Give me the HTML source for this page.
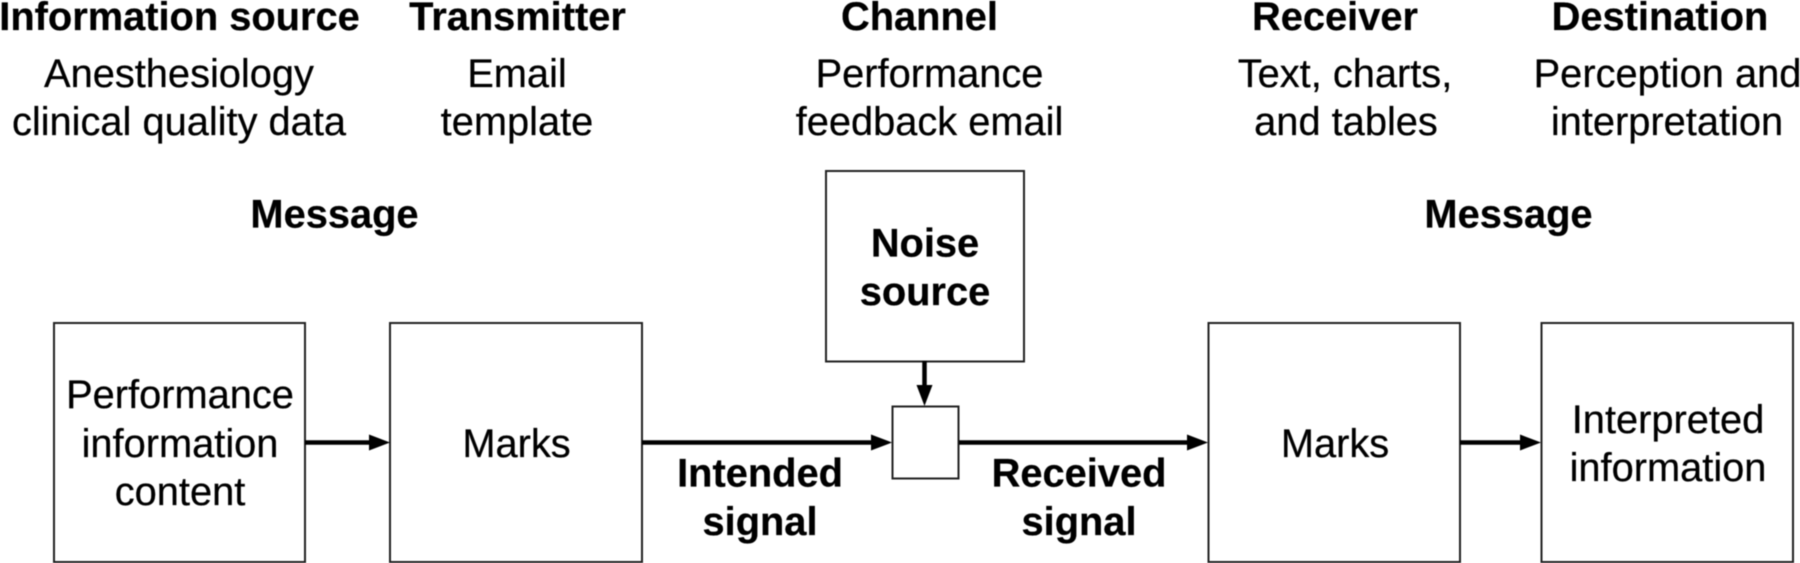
<!DOCTYPE html>
<html>
<head>
<meta charset="utf-8">
<style>
html,body{margin:0;padding:0;background:#fff;width:1800px;height:563px;overflow:hidden}
svg{display:block;filter:blur(0.45px)}
text{font-family:"Liberation Sans",sans-serif;font-size:39.8px;fill:#000;stroke:#000;stroke-width:0.25px;text-anchor:middle}
.b{font-weight:bold}
rect{fill:#fff;stroke:#222;stroke-width:2}
line{stroke:#000;stroke-width:4.5}
polygon{fill:#000}
</style>
</head>
<body>
<svg width="1800" height="563" viewBox="0 0 1800 563" xmlns="http://www.w3.org/2000/svg">
<rect x="54" y="323" width="251" height="239"/>
<rect x="390" y="323" width="252" height="239"/>
<rect x="826" y="171" width="198" height="190.500"/>
<rect x="892.500" y="406.500" width="66" height="72"/>
<rect x="1208.500" y="323" width="251.500" height="239"/>
<rect x="1541.500" y="323" width="251.500" height="239"/>

<line x1="305" y1="442.500" x2="372" y2="442.500"/><polygon points="369,434.500 390,442.500 369,450.500"/>
<line x1="642" y1="442.500" x2="874" y2="442.500"/><polygon points="871,434.500 892,442.500 871,450.500"/>
<line x1="959" y1="442.500" x2="1190" y2="442.500"/><polygon points="1187,434.500 1208,442.500 1187,450.500"/>
<line x1="1460" y1="442.500" x2="1523" y2="442.500"/><polygon points="1520,434.500 1541,442.500 1520,450.500"/>
<line x1="924.500" y1="361" x2="924.500" y2="388"/><polygon points="916.500,385 932.500,385 924.500,406"/>

<text class="b" x="179.500" y="30">Information source</text>
<text class="b" x="517.500" y="30">Transmitter</text>
<text class="b" x="919.500" y="30">Channel</text>
<text class="b" x="1335" y="30">Receiver</text>
<text class="b" x="1660" y="30">Destination</text>

<text x="179" y="87">Anesthesiology</text>
<text x="179" y="135">clinical quality data</text>
<text x="517" y="87">Email</text>
<text x="517" y="135">template</text>
<text x="929.500" y="87">Performance</text>
<text x="929.500" y="135">feedback email</text>
<text x="1345" y="87">Text, charts,</text>
<text x="1346" y="135">and tables</text>
<text x="1667.500" y="87">Perception and</text>
<text x="1667" y="135">interpretation</text>

<text class="b" x="334.500" y="227.500">Message</text>
<text class="b" x="1508.500" y="227.500">Message</text>

<text class="b" x="925" y="256.500">Noise</text>
<text class="b" x="925" y="305">source</text>

<text x="180" y="408">Performance</text>
<text x="180" y="457">information</text>
<text x="180" y="505">content</text>
<text x="516.500" y="457">Marks</text>
<text x="1335" y="457">Marks</text>
<text x="1668" y="433">Interpreted</text>
<text x="1668" y="481">information</text>

<text class="b" x="760" y="486.500">Intended</text>
<text class="b" x="760" y="535">signal</text>
<text class="b" x="1079" y="486.500">Received</text>
<text class="b" x="1079" y="535">signal</text>
</svg>
</body>
</html>
